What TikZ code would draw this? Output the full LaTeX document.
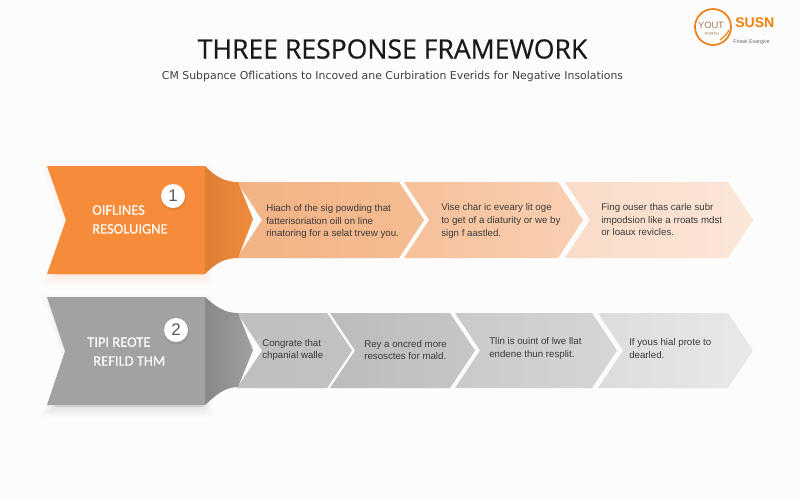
\documentclass[tikz,border=0pt]{standalone}
\usepackage{fontspec}
\setmainfont{Liberation Sans}
\newfontfamily\titlefont[RawFeature={embolden=0.5}]{Open Sans}
\newfontfamily\subfont{DejaVu Sans}
\newfontfamily\headfont[RawFeature={embolden=0.3}]{Carlito}
\usetikzlibrary{positioning}
\definecolor{mainorange}{HTML}{F68C3A}
\definecolor{foldorange}{HTML}{DD7E35}
\definecolor{tiporange}{HTML}{F18A3B}
\definecolor{maingrey}{HTML}{A2A2A2}
\definecolor{foldgrey}{HTML}{878787}
\definecolor{tipgrey}{HTML}{A0A0A0}
\definecolor{inktext}{HTML}{3A3A3A}
\definecolor{upal}{HTML}{F3B385}
\definecolor{upar}{HTML}{F5BD93}
\definecolor{upbl}{HTML}{F6C09A}
\definecolor{upbr}{HTML}{F9D0B2}
\definecolor{upcl}{HTML}{F9DCC8}
\definecolor{upcr}{HTML}{FBE6D8}
\definecolor{loal}{HTML}{BFBFBF}
\definecolor{loar}{HTML}{C2C2C2}
\definecolor{lobl}{HTML}{BCBCBC}
\definecolor{lobr}{HTML}{C6C6C6}
\definecolor{locl}{HTML}{C9C9C9}
\definecolor{locr}{HTML}{D6D6D6}
\definecolor{lodl}{HTML}{DCDCDC}
\definecolor{lodr}{HTML}{E9E9E9}
\tikzset{
    body/.style = {anchor=west,align=left,inner sep=0pt,text=inktext,font=\fontsize{6.9}{8.9}\selectfont},
    headtext/.style = {anchor=west,align=left,inner sep=0pt,text=white,font=\headfont\fontsize{10.3}{13.4}\selectfont},
    badge/.style = {circle,fill=white,minimum size=0.6cm,inner sep=0pt,text=black!65,font=\fontsize{12}{12}\selectfont}
}
\begin{document}
\begin{tikzpicture}[x=0.025cm,y=-0.025cm]
            \useasboundingbox (0,0) rectangle (800,500);
            \fill[white!99!black] (0,0) rectangle (800,500);

            \node [font=\titlefont\fontsize{18.9}{20}\selectfont,text=black!90] (title) at (392.5,49) {THREE RESPONSE FRAMEWORK};
            \node [font=\subfont\fontsize{7.75}{9}\selectfont,text=black!75] (subtitle) at (392.5,76.5) {CM Subpance Oflications to Incoved ane Curbiration Everids for Negative Insolations};

            % logo
            \draw[orange!70!brown,line width=1.2pt] (713,27) circle (18);
            \draw[orange!70!brown,line width=0.8pt] (720,40) .. controls (724,37) and (727,34) .. (729,30);
            \node [font=\fontsize{6.6}{7}\selectfont,text=orange!50!black!70] (yout) at (711,25) {YOUT};
            \node [font=\fontsize{3}{3}\selectfont,text=orange!50!black!70] (yline) at (712,34) {FORTH};
            \node [font=\bfseries\fontsize{10}{10}\selectfont,text=orange!80!brown,anchor=west,inner sep=0pt] (susn) at (735,23) {SUSN};
            \node [font=\fontsize{3.8}{4}\selectfont,text=black!60,anchor=west,inner sep=0pt] (tagline) at (733,42) {Fnisel Esargive};

            % upper row
            \foreach \xa/\xb/\ca/\cb in {237/399/upal/upar, 404/558/upbl/upbr, 565/728/upcl/upcr}{
                \path[left color=\ca,right color=\cb] (\xa,182) -- (\xb,182) -- (\xb+25,220) -- (\xb,258) -- (\xa,258) -- (\xa+25,220) -- cycle;
            }
            % lower row
            \foreach \xa/\xb/\ca/\cb in {237/327/loal/loar, 330/450/lobl/lobr, 455/592/locl/locr, 598/728/lodl/lodr}{
                \path[left color=\ca,right color=\cb] (\xa,313) -- (\xb,313) -- (\xb+25,350.5) -- (\xb,388) -- (\xa,388) -- (\xa+25,350.5) -- cycle;
            }

            % soft shadows under the big arrows
            \foreach \w in {2,4,...,14}{
                \fill[orange,opacity=0.01,line width=\w pt,draw=orange,draw opacity=0.01] (55,174) -- (203,174) -- (203,276) -- (55,276) -- (72,226) -- cycle;
                \fill[black,opacity=0.01,line width=\w pt,draw=black,draw opacity=0.01] (55,305) -- (203,305) -- (203,407) -- (55,407) -- (72,357) -- cycle;
            }

            % big arrows
            \path[left color=foldorange,right color=tiporange] (205,166) .. controls (215,176) and (224,182) .. (238,182) -- (253,219) -- (238,258) .. controls (224,258) and (215,264) .. (205,274) -- cycle;
            \fill[mainorange] (47,166) -- (205,166) -- (205,274) -- (47,274) -- (66,220) -- cycle;
            \path[left color=foldgrey,right color=tipgrey] (205,297) .. controls (215,306) and (224,313) .. (238,313) -- (253,350) -- (238,387) .. controls (224,387) and (215,396) .. (205,405) -- cycle;
            \fill[maingrey] (47,297) -- (205,297) -- (205,405) -- (47,405) -- (65,351) -- cycle;

            % badges
            \foreach \bx/\by/\num in {173/196/1, 176/330/2}{
                \fill[black,opacity=0.08] (\bx+0.5,\by+1.5) circle (13);
                \node [badge] (badge\num) at (\bx,\by) {\num};
            }

            \node [headtext] (offline) at (92,219.5) {OIFLINES\\RESOLUIGNE};
            \node [headtext] (tipi) at (87,351.5) {TIPI REOTE\\\hspace*{4.3pt}REFILD THM};

            \node [body] (ta) at (266,221.5) {Hiach of the sig powding that\\fatterisoriation oill on line\\rinatoring for a selat trvew you.};
            \node [body] (tb) at (441,221) {Vise char ic eveary lit oge\\to get of a diaturity or we by\\sign f aastled.};
            \node [body] (tc) at (601,220) {Fing ouser thas carle subr\\impodsion like a rroats mdst\\or loaux revicles.};

            \node [body] (td) at (262,350) {Congrate that\\chpanial walle};
            \node [body] (te) at (364,350) {Rey a oncred more\\resosctes for mald.};
            \node [body] (tf) at (489,348.5) {Tlin is ouint of lwe llat\\endene thun resplit.};
            \node [body] (tg) at (629,348.5) {If yous hial prote to\\dearled.};
\end{tikzpicture}
\end{document}
